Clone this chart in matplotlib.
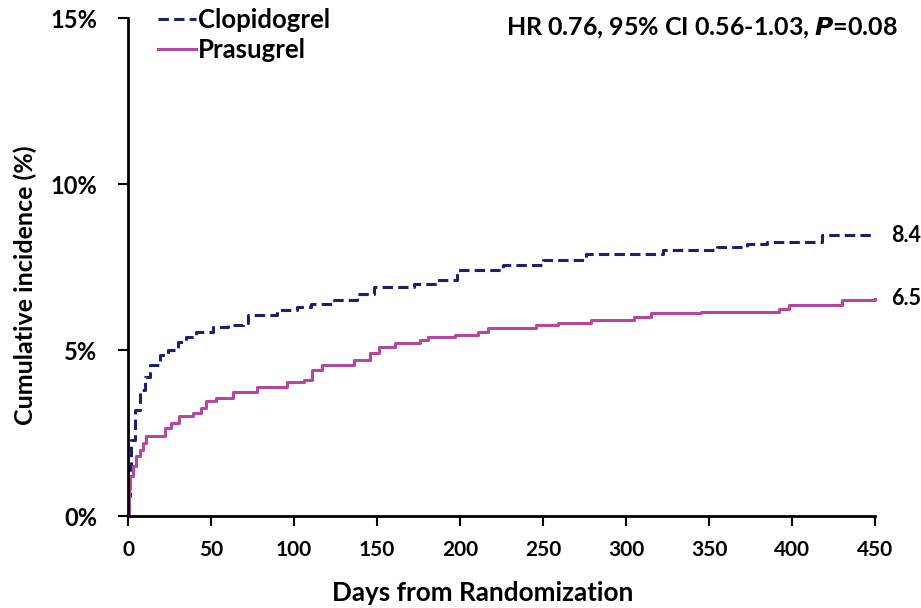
import matplotlib
matplotlib.use("Agg")
import matplotlib.pyplot as plt

plt.rcParams['font.family'] = ['Lato', 'DejaVu Sans']

clop_days = [0, 0.5, 1, 2, 4, 7, 10, 13, 19, 24, 30, 35, 41, 51, 60, 69, 72, 90, 102, 110, 124, 138, 148, 172, 186, 198, 226, 250, 276, 322, 355, 373, 385, 418, 450]
clop_vals = [0, 0.6, 1.5, 2.3, 3.2, 3.8, 4.2, 4.55, 4.85, 5.0, 5.25, 5.4, 5.55, 5.7, 5.75, 5.8, 6.05, 6.2, 6.3, 6.4, 6.5, 6.7, 6.9, 7.0, 7.1, 7.4, 7.55, 7.7, 7.9, 8.0, 8.1, 8.2, 8.25, 8.45, 8.45]

pras_days = [0, 0.5, 1, 3, 5, 7, 9, 11, 19, 22, 26, 31, 39, 44, 47, 53, 63, 78, 96, 106, 111, 117, 130, 136, 146, 151, 161, 176, 181, 197, 211, 217, 246, 259, 279, 305, 315, 345, 392, 398, 430, 450]
pras_vals = [0, 0.8, 1.2, 1.5, 1.8, 2.0, 2.2, 2.4, 2.4, 2.65, 2.8, 3.0, 3.1, 3.25, 3.45, 3.55, 3.75, 3.9, 4.05, 4.1, 4.4, 4.55, 4.55, 4.7, 4.9, 5.1, 5.2, 5.3, 5.4, 5.45, 5.55, 5.65, 5.75, 5.8, 5.9, 6.0, 6.1, 6.15, 6.25, 6.35, 6.5, 6.55]

x_ticks = [0, 50, 100, 150, 200, 250, 300, 350, 400, 450]
y_ticks = [0, 5, 10, 15]
y_ticklabels = ['0%', '5%', '10%', '15%']
end_labels = ['8.4', '6.5']

fig = plt.figure(figsize=(9.21, 6.08), dpi=100)
ax = fig.add_axes([128/921, 1-516/608, (875-128)/921, (516-18)/608])

navy = '#1f1f6e'
magenta = '#b5479f'

ax.step(clop_days, clop_vals, where='post', color=navy, lw=2.2, ls=(0, (3.4, 1.7)), clip_on=False, label='Clopidogrel')
ax.step(pras_days, pras_vals, where='post', color=magenta, lw=2.2, clip_on=False, label='Prasugrel')

ax.set_xlim(0, 450)
ax.set_ylim(0, 15)
ax.set_xticks(x_ticks)
ax.set_xticklabels([str(t) for t in x_ticks])
ax.set_yticks(y_ticks)
ax.set_yticklabels(y_ticklabels)
for s in ['top', 'right']:
    ax.spines[s].set_visible(False)
for s in ['left', 'bottom']:
    ax.spines[s].set_linewidth(2)
    ax.spines[s].set_color('black')
ax.tick_params(axis='both', direction='out', length=7, width=1.5)
ax.tick_params(axis='x', pad=10, labelsize=15)
ax.tick_params(axis='y', pad=15, labelsize=17)
for lbl in ax.get_xticklabels() + ax.get_yticklabels():
    lbl.set_fontweight('bold')

ax.set_xlabel('Days from Randomization', fontsize=18.8, fontweight='bold')
ax.xaxis.set_label_coords((483 - 128) / 747, -(593 - 516) / 498)
ax.xaxis.label.set_va('center')
ax.set_ylabel('Cumulative incidence (%)', fontsize=18, fontweight='bold')
ax.yaxis.set_label_coords(-(128 - 25) / 747, (516 - 285) / 498)
ax.yaxis.label.set_va('center')

leg = ax.legend(loc='upper left', bbox_to_anchor=(0.026, 1.04), frameon=False,
                prop={'size': 18.5, 'weight': 'bold'}, handlelength=1.5, handletextpad=0.08,
                labelspacing=0.22, borderaxespad=0)

ax.text(1.03, 0.98, r'HR 0.76, 95% CI 0.56-1.03, $\bfit{P}$=0.08', transform=ax.transAxes,
        ha='right', va='center', fontsize=18, fontweight='bold')

ax.text(clop_days[-1] + 10, clop_vals[-1], end_labels[0], ha='left', va='center', fontsize=15.5, fontweight='bold')
ax.text(pras_days[-1] + 10, pras_vals[-1], end_labels[1], ha='left', va='center', fontsize=15.5, fontweight='bold')

fig.savefig('out.png', dpi=100)
